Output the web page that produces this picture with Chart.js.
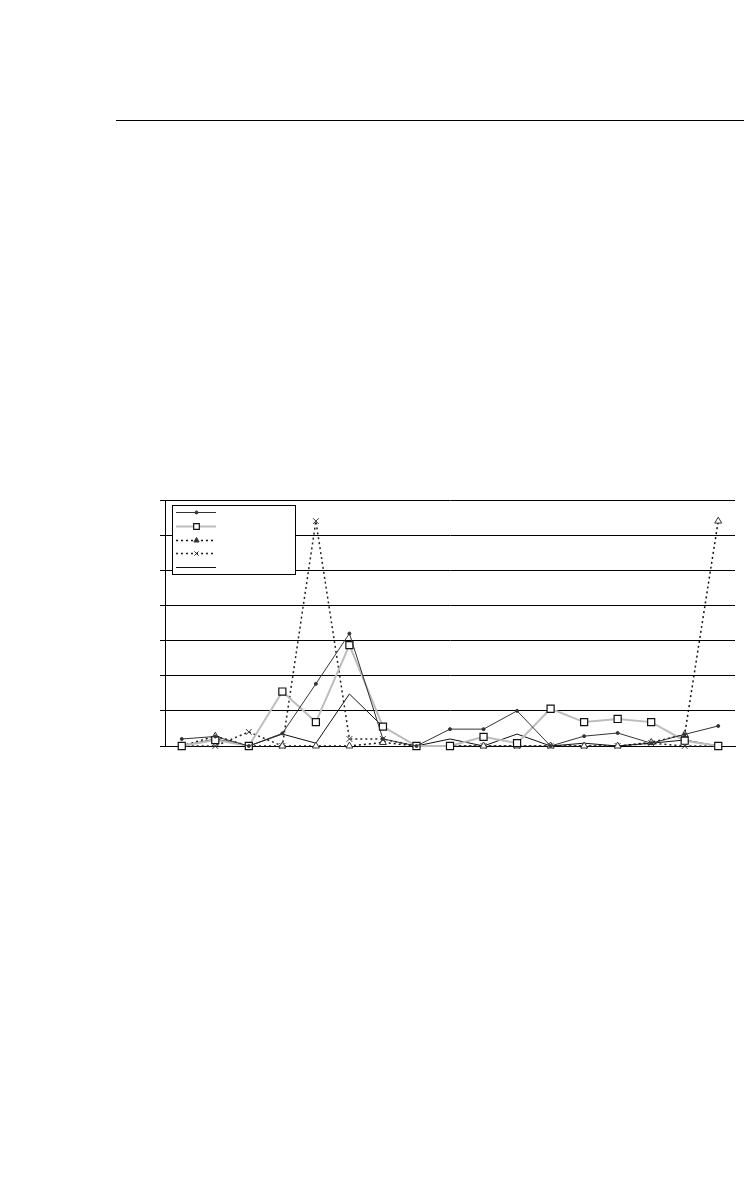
<!DOCTYPE html>
<html>
<head>
<meta charset="utf-8">
<script src="https://cdn.jsdelivr.net/npm/chart.js@4/dist/chart.umd.min.js"></script>
<style>
  html, body { margin: 0; padding: 0; background: #fff; }
  body { width: 744px; height: 1204px; position: relative; overflow: hidden; }
  #rule { position: absolute; left: 116px; top: 120px; width: 628px; height: 1px; background: #000; }
  #wrap { position: absolute; left: 140px; top: 490px; width: 604px; height: 270px; }
</style>
</head>
<body>
<div id="rule"></div>
<div id="wrap"><canvas id="c" width="604" height="270"></canvas></div>
<script>
const categories = ['1','2','3','4','5','6','7','8','9','10','11','12','13','14','15','16','17'];
const seriesDots    = [0.2, 0.27, 0, 0.36, 1.77, 3.2, 0.2, 0, 0.48, 0.48, 1.0, 0, 0.28, 0.37, 0.08, 0.33, 0.57];
const seriesSquares = [0, 0.17, 0, 1.55, 0.68, 2.87, 0.55, 0, 0, 0.26, 0.08, 1.06, 0.68, 0.77, 0.68, 0.15, 0];
const seriesTriang  = [0, 0.28, 0, 0, 0, 0, 0.1, 0, 0, 0, 0, 0, 0, 0, 0.1, 0.33, 6.4];
const seriesCross   = [0, 0, 0.4, 0, 6.4, 0.2, 0.2, 0, 0, 0, 0, 0, 0, 0, 0.08, 0, 0];
const seriesPlain   = [0, 0.2, 0, 0.34, 0.08, 1.48, 0.55, 0, 0.2, 0, 0.34, 0, 0.08, 0, 0.08, 0.17, 0];
const yTicks = [0, 1, 2, 3, 4, 5, 6, 7];

const legendPlugin = {
  id: 'boxLegend',
  beforeDatasetsDraw(chart) {
    const ctx = chart.ctx;
    const a = chart.chartArea;
    const x0 = a.left + 7.5, y0 = a.top + 5.5, w = 123, h = 69;
    ctx.save();
    ctx.fillStyle = '#fff';
    ctx.strokeStyle = '#000';
    ctx.lineWidth = 1;
    ctx.fillRect(x0, y0, w, h);
    ctx.strokeRect(x0, y0, w, h);
    const ys = [12, 26, 40, 53, 67];
    chart.data.datasets.forEach((ds, i) => {
      const y = Math.round(a.top + ys[i]) + 0.5;
      const lx0 = a.left + 11, lx1 = a.left + 51, mx = Math.round((lx0 + lx1) / 2) + 0.5;
      ctx.save();
      ctx.strokeStyle = ds.borderColor;
      ctx.lineWidth = ds.borderWidth;
      ctx.setLineDash(ds.borderDash || []);
      ctx.beginPath(); ctx.moveTo(lx0, y); ctx.lineTo(lx1, y); ctx.stroke();
      ctx.restore();
      if (ds.pointRadius > 0) {
        ctx.save();
        ctx.fillStyle = ds.legendFill || ds.pointBackgroundColor;
        ctx.strokeStyle = ds.pointBorderColor;
        ctx.lineWidth = ds.pointBorderWidth;
        Chart.helpers.drawPoint(ctx, {
          pointStyle: ds.pointStyle, rotation: 0,
          radius: ds.legendRadius || ds.pointRadius,
          borderWidth: ds.pointBorderWidth
        }, mx, y);
        ctx.restore();
      }
    });
    ctx.restore();
  }
};

new Chart(document.getElementById('c'), {
  type: 'line',
  data: {
    labels: categories,
    datasets: [
      { data: seriesDots, borderColor: '#333', borderWidth: 1, pointStyle: 'circle', pointRadius: 1.5,
        pointBackgroundColor: '#333', pointBorderColor: '#333', pointBorderWidth: 1 },
      { data: seriesSquares, borderColor: '#bdbdbd', borderWidth: 2, pointStyle: 'rect', pointRadius: 5,
        legendRadius: 4, pointBackgroundColor: '#fff', pointBorderColor: '#111', pointBorderWidth: 1.2 },
      { data: seriesTriang, borderColor: '#111', borderWidth: 1.5, borderDash: [2, 3], pointStyle: 'triangle', pointRadius: 4,
        legendRadius: 3, pointBackgroundColor: '#fff', legendFill: '#333', pointBorderColor: '#333', pointBorderWidth: 1 },
      { data: seriesCross, borderColor: '#222', borderWidth: 1.5, borderDash: [2, 3], pointStyle: 'crossRot', pointRadius: 4,
        legendRadius: 3, pointBackgroundColor: '#fff', pointBorderColor: '#333', pointBorderWidth: 1 },
      { data: seriesPlain, borderColor: '#111', borderWidth: 1, pointRadius: 0 }
    ]
  },
  options: {
    responsive: false,
    animation: false,
    layout: { padding: { left: 0, right: 9, top: 10, bottom: 0 } },
    elements: { line: { tension: 0, fill: false } },
    datasets: { line: { clip: false } },
    plugins: { legend: { display: false }, tooltip: { enabled: false } },
    scales: {
      x: {
        offset: true,
        grid: { display: false, drawTicks: false },
        border: { display: true, color: '#000', width: 1 },
        ticks: { display: false },
        afterFit(s) { s.height = 14; }
      },
      y: {
        min: yTicks[0], max: yTicks[yTicks.length - 1],
        afterBuildTicks(s) { s.ticks = yTicks.map(v => ({ value: v })); },
        grid: { color: '#000', lineWidth: 1, tickLength: 5 },
        border: { color: '#000', width: 1 },
        ticks: { display: false },
        afterFit(s) { s.width = 25; }
      }
    }
  },
  plugins: [legendPlugin]
});
</script>
</body>
</html>
